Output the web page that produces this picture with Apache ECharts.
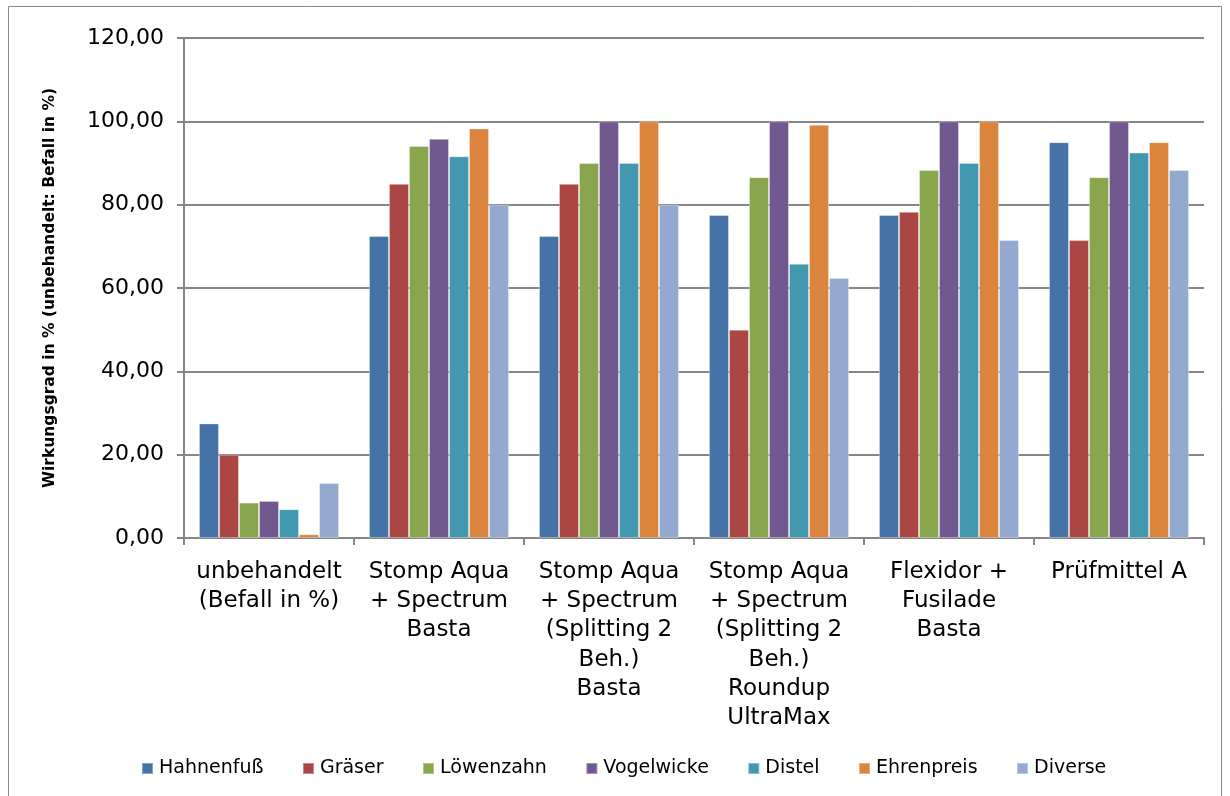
<!DOCTYPE html>
<html><head><meta charset="utf-8">
<script src="https://cdn.jsdelivr.net/npm/echarts@6/dist/echarts.min.js"></script>
<style>html,body{margin:0;padding:0;background:#fff}#c{width:1230px;height:796px}</style>
</head><body><div id="c"></div>
<script>
const categories = ["unbehandelt\n(Befall in %)", "Stomp Aqua\n+ Spectrum\nBasta", "Stomp Aqua\n+ Spectrum\n(Splitting 2\nBeh.)\nBasta", "Stomp Aqua\n+ Spectrum\n(Splitting 2\nBeh.)\nRoundup\nUltraMax", "Flexidor +\nFusilade\nBasta", "Prüfmittel A"];
const seriesNames = ["Hahnenfuß", "Gräser", "Löwenzahn", "Vogelwicke", "Distel", "Ehrenpreis", "Diverse"];
const hahnenfuss = [27.5, 72.5, 72.5, 77.5, 77.5, 95.0];
const graeser    = [20.0, 85.0, 85.0, 50.0, 78.3, 71.5];
const loewenzahn = [8.5, 94.1, 90.0, 86.6, 88.3, 86.6];
const vogelwicke = [8.9, 95.8, 100.0, 100.0, 100.0, 100.0];
const distel     = [6.9, 91.6, 90.0, 65.8, 90.0, 92.5];
const ehrenpreis = [0.9, 98.3, 100.0, 99.2, 100.0, 95.0];
const diverse    = [13.2, 80.0, 80.0, 62.4, 71.5, 88.3];
const colors = ["#4572A7", "#AA4643", "#89A54E", "#71588F", "#4198AF", "#DB843D", "#93A9CF"];
const values = [hahnenfuss, graeser, loewenzahn, vogelwicke, distel, ehrenpreis, diverse];

const chart = echarts.init(document.getElementById('c'), null, {renderer: 'canvas'});
chart.setOption({
  animation: false,
  backgroundColor: '#fff',
  color: colors,
  graphic: [{type: 'rect', shape: {x: 8.5, y: 6.5, width: 1213, height: 800}, style: {fill: 'none', stroke: '#8a8a8a', lineWidth: 1}, silent: true}],
  grid: {left: 184, right: 26, top: 38, bottom: 258, containLabel: false},
  legend: {
    bottom: 13, left: 136, itemWidth: 11, itemHeight: 11, itemGap: 38.5,
    icon: 'rect',
    textStyle: {fontFamily: 'DejaVu Sans', fontSize: 19, color: '#000', padding: [0, 0, 0, 1]},
    data: seriesNames
  },
  xAxis: {
    type: 'category', data: categories,
    axisLine: {lineStyle: {color: '#868686', width: 2}},
    axisTick: {show: true, length: 7, lineStyle: {color: '#868686', width: 2}},
    axisLabel: {interval: 0, fontFamily: 'DejaVu Sans', fontSize: 23, color: '#000', lineHeight: 29.3, margin: 19, align: 'center'}
  },
  yAxis: {
    type: 'value', min: 0, max: 120, interval: 20,
    name: 'Wirkungsgrad in % (unbehandelt: Befall in %)', nameLocation: 'middle', nameGap: 126,
    nameTextStyle: {fontFamily: 'DejaVu Sans', fontWeight: 'bold', fontSize: 15.5, color: '#000'},
    axisLine: {show: true, lineStyle: {color: '#868686', width: 2}},
    axisTick: {show: true, length: 7, lineStyle: {color: '#868686', width: 2}},
    splitLine: {lineStyle: {color: '#868686', width: 2}},
    axisLabel: {fontFamily: 'DejaVu Sans', fontSize: 22, color: '#000', margin: 20,
      formatter: v => v.toFixed(2).replace('.', ',')}
  },
  series: seriesNames.map((n, i) => ({
    name: n, type: 'bar', data: values[i],
    barGap: '0%', barCategoryGap: '17.6%',
    itemStyle: {color: colors[i], borderColor: 'rgba(255,255,255,0.35)', borderWidth: 1}
  }))
});
</script></body></html>
